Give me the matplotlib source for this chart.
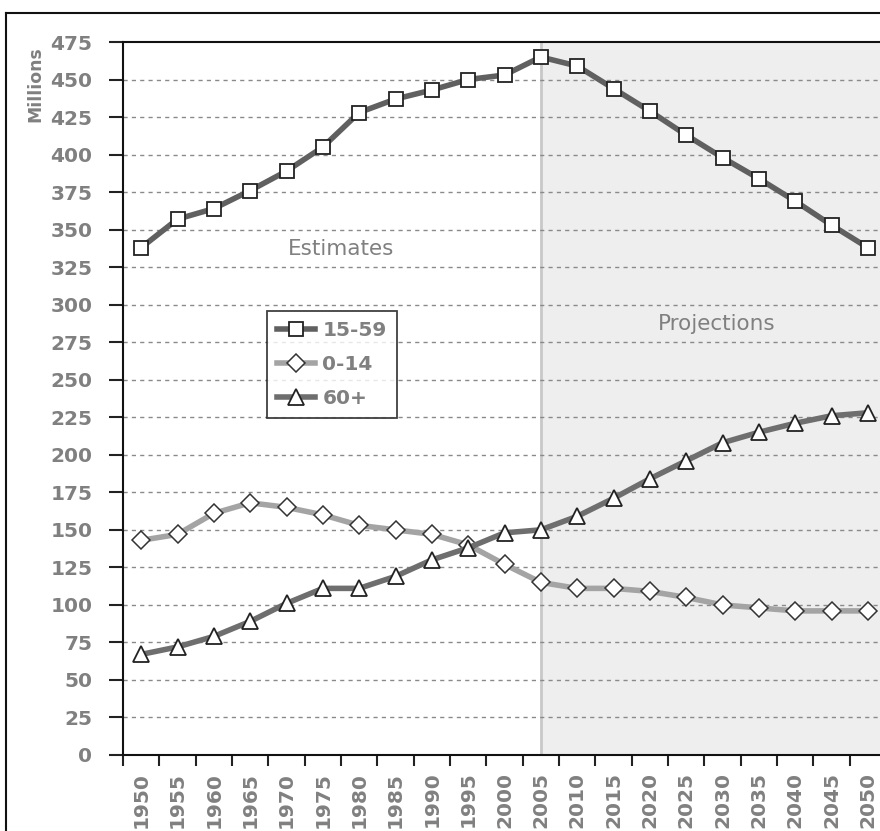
import matplotlib.pyplot as plt
from matplotlib.lines import Line2D

# Population by age group, millions
years = list(range(1950, 2051, 5))
age_15_59 = [338, 357, 364, 376, 389, 405, 428, 437, 443, 450, 453,
             465, 459, 444, 429, 413, 398, 384, 369, 353, 338]
age_0_14 = [143, 147, 161, 168, 165, 160, 153, 150, 147, 140, 127,
            115, 111, 111, 109, 105, 100, 98, 96, 96, 96]
age_60_plus = [67, 72, 79, 89, 101, 111, 111, 119, 130, 138, 148,
               150, 159, 171, 184, 196, 208, 215, 221, 226, 228]
projection_start = 2005

W, H = 880, 831
fig = plt.figure(figsize=(W / 100, H / 100), dpi=100)
ax = fig.add_axes([123 / W, 1 - 755 / H, 763 / W, 713 / H])

gray_text = '#808080'
fs = 14.5
x = list(range(len(years)))
start = years.index(projection_start)

# projections shading
ax.axvspan(start, len(years) - 0.5, color='#eeeeee', zorder=0, lw=0)
ax.axvline(start, color='#c8c8c8', lw=2, zorder=0.5)

# dashed gridlines
for v in range(25, 475, 25):
    ax.axhline(v, color='#8a8a8a', lw=1, ls=(0, (3, 3)), zorder=1)

ax.plot(x, age_15_59, color='#606060', lw=4, marker='s', ms=10,
        mfc='white', mec='#222222', mew=1.3, label='15-59', zorder=3)
ax.plot(x, age_0_14, color='#a4a4a4', lw=4, marker='D', ms=9,
        mfc='white', mec='#333333', mew=1.1, label='0-14', zorder=3)
ax.plot(x, age_60_plus, color='#6e6e6e', lw=4, marker='^', ms=11,
        mfc='white', mec='#222222', mew=1.3, label='60+', zorder=3)

ax.set_xlim(-0.5, len(years) - 0.5)
ax.set_ylim(0, 475)
ax.set_yticks(range(0, 476, 25))
ax.set_xticks(x)
ax.set_xticklabels([str(y) for y in years], rotation=90)
ax.set_xticks([i - 0.5 for i in range(len(years) + 1)], minor=True)
ax.tick_params(axis='x', which='major', length=0, pad=12)
ax.tick_params(axis='x', which='minor', length=8, width=1.5, color='#222222')
ax.tick_params(axis='y', length=10, width=1.5, color='#222222', pad=12)
for lab in ax.get_xticklabels() + ax.get_yticklabels():
    lab.set_fontsize(fs)
    lab.set_fontweight('bold')
    lab.set_color(gray_text)
    lab.set_family('DejaVu Sans')

for s in ['left', 'bottom', 'top']:
    ax.spines[s].set_color('#111111')
    ax.spines[s].set_linewidth(1.5)
ax.spines['right'].set_visible(False)

ax.text(5.5, 337, 'Estimates', ha='center', va='center', fontsize=15.5,
        color=gray_text, zorder=4)
ax.text(15.85, 287, 'Projections', ha='center', va='center', fontsize=15.5,
        color=gray_text, zorder=4)

fig.text(35 / W, 1 - 84 / H, 'Millions', rotation=90, ha='center', va='center',
         fontsize=12.4, fontweight='bold', color=gray_text)

leg = ax.legend(loc='upper left', bbox_to_anchor=(0.1887, 0.6227),
                borderaxespad=0, handlelength=1.9, handletextpad=0.35,
                labelspacing=0.75, borderpad=0.5, fancybox=False,
                prop={'size': fs, 'weight': 'bold'})
leg.get_frame().set_edgecolor('#111111')
leg.get_frame().set_linewidth(1.3)
leg.set_zorder(5)
for t in leg.get_texts():
    t.set_color(gray_text)

# outer chart frame
fig.add_artist(Line2D([6 / W, 6 / W], [0, 1 - 13 / H], color='#111111', lw=1.5))
fig.add_artist(Line2D([6 / W, 1], [1 - 13 / H, 1 - 13 / H], color='#111111', lw=1.5))

fig.savefig('out.png', dpi=100)
